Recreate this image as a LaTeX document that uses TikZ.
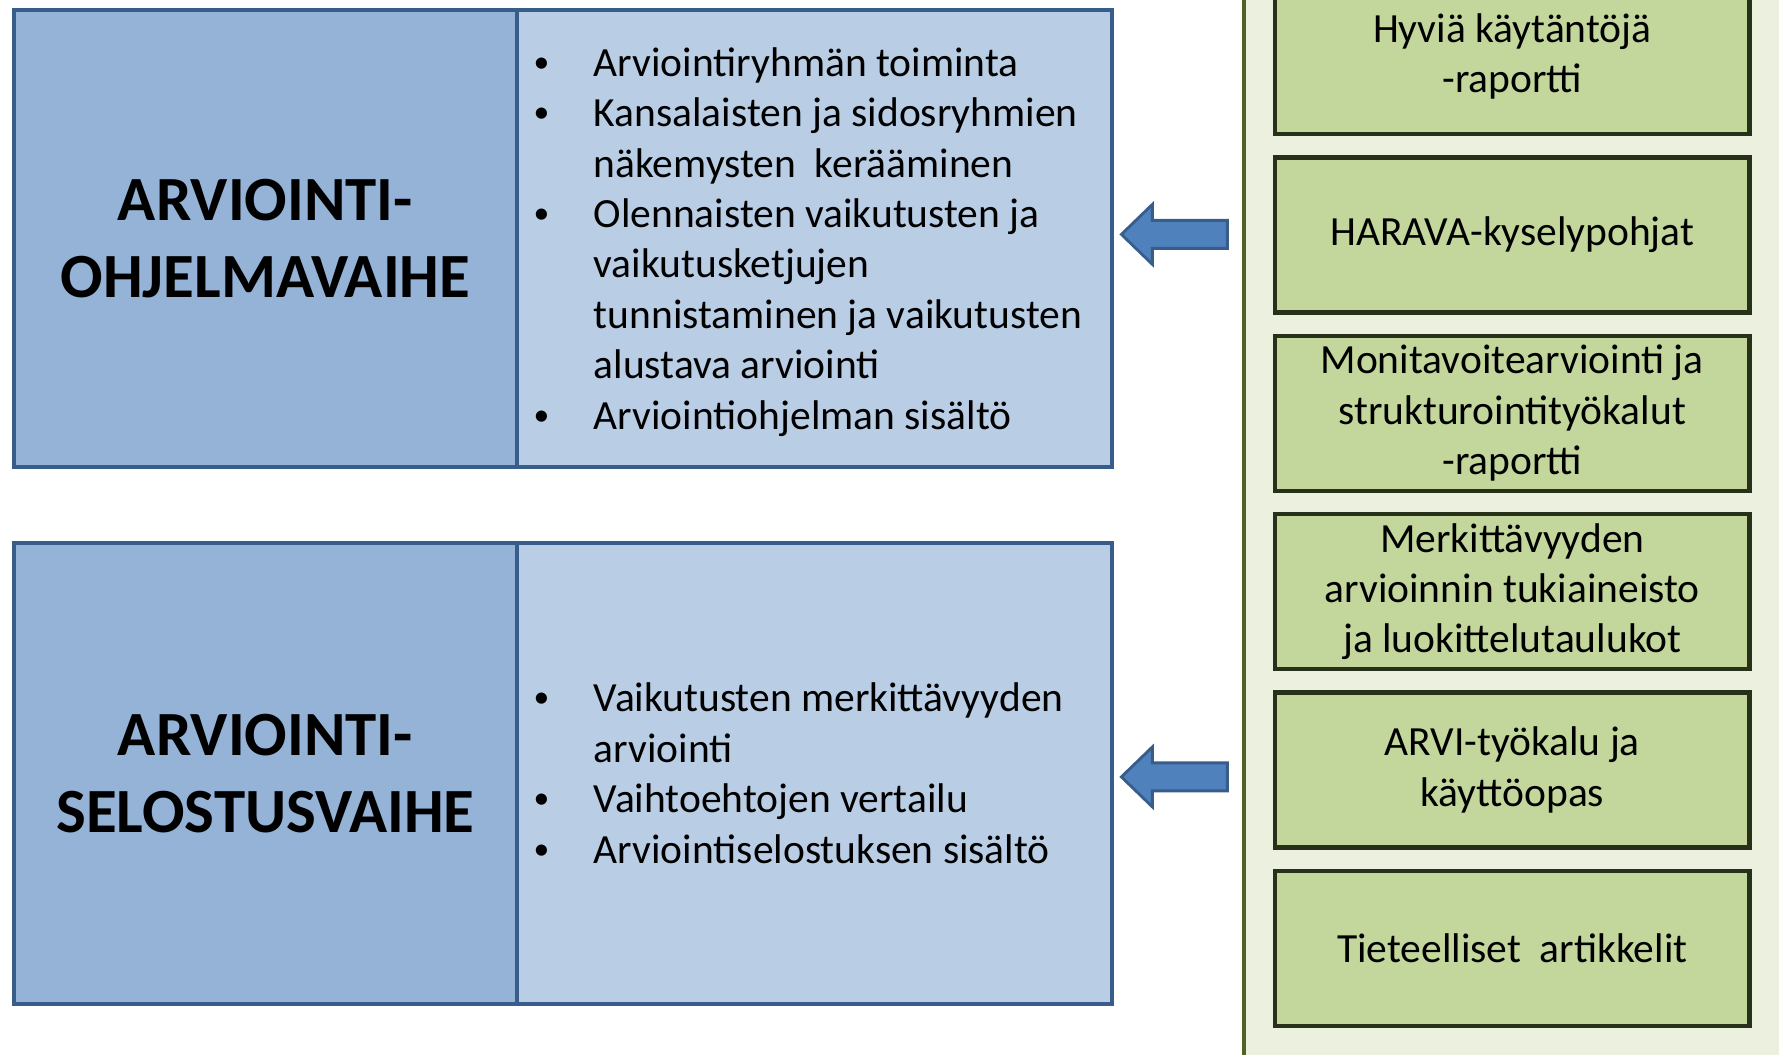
\documentclass[tikz,border=0pt]{standalone}
\usepackage{fontspec}
\setmainfont{Carlito}
\usepackage{tikz}
\usetikzlibrary{positioning}

\definecolor{phaseblue}{HTML}{95B3D7}
\definecolor{listblue}{HTML}{B9CDE5}
\definecolor{edgeblue}{HTML}{385D8A}
\definecolor{arrowblue}{HTML}{4F81BD}
\definecolor{panelgreen}{HTML}{EBF1DE}
\definecolor{paneledge}{HTML}{4F6228}
\definecolor{toolgreen}{HTML}{C3D69B}
\definecolor{tooledge}{HTML}{27311A}

\newcommand{\bul}{\makebox[0.56cm][l]{\hspace*{-0.04cm}\raisebox{0.2ex}{\fontsize{9}{9}\selectfont\textbullet}}}
\newcommand{\ind}{\hspace*{0.56cm}}

\begin{document}
\begin{tikzpicture}[x=0.01cm, y=-0.01cm,
    phase/.style={draw=edgeblue, line width=1pt, fill=phaseblue,
        minimum width=5.03cm, anchor=north west, align=center,
        font=\bfseries\fontsize{17.9}{22}\selectfont},
    listbox/.style={draw=edgeblue, line width=1pt, fill=listblue,
        minimum width=5.95cm, anchor=north west},
    listtext/.style={anchor=west, align=left, inner sep=0pt,
        font=\fontsize{11.8}{14.35}\selectfont},
    tool/.style={draw=tooledge, line width=1.2pt, fill=toolgreen,
        minimum width=4.74cm, minimum height=1.55cm, inner ysep=0.5pt,
        align=center, font=\fontsize{11.8}{14.35}\selectfont},
    blockarrow/.style={fill=arrowblue, draw=edgeblue, line width=0.8pt}]

    \useasboundingbox (0,0) rectangle (1779,1055);
    \clip (0,0) rectangle (1779,1055);

    % 1. Right panel with the tools
    \node[draw=paneledge, line width=1.1pt, fill=panelgreen, anchor=north west,
          minimum width=6cm, minimum height=11.2cm] (panel) at (1242,-30) {};

    \node[tool, anchor=north west] (hyvia) at (1273,-23) {Hyviä käytäntöjä\\-raportti};
    \node[tool, below=0.19cm of hyvia] (harava) {HARAVA-kyselypohjat};
    \node[tool, below=0.19cm of harava] (monitavoite) {Monitavoitearviointi ja\\strukturointityökalut\\-raportti};
    \node[tool, below=0.19cm of monitavoite] (merkitys) {Merkittävyyden\\arvioinnin tukiaineisto\\ja luokittelutaulukot};
    \node[tool, below=0.19cm of merkitys] (arvi) {ARVI-työkalu ja\\käyttöopas};
    \node[tool, below=0.19cm of arvi] (artikkelit) {Tieteelliset \ artikkelit};

    % 2. Programme phase (top)
    \node[phase, minimum height=4.57cm] (ohjelma) at (12,8) {ARVIOINTI-\\OHJELMAVAIHE};
    \node[listbox, minimum height=4.57cm] (ohjelmalista) at (515,8) {};
    \node[listtext] (ohjelmateksti) at ([xshift=0.22cm, yshift=-0.035cm]ohjelmalista.west) {%
        \bul Arviointiryhmän toiminta\\
        \bul Kansalaisten ja sidosryhmien\\
        \ind näkemysten \ kerääminen\\
        \bul Olennaisten vaikutusten ja\\
        \ind vaikutusketjujen\\
        \ind tunnistaminen ja vaikutusten\\
        \ind alustava arviointi\\
        \bul Arviointiohjelman sisältö};

    % 3. Report phase (bottom)
    \node[phase, minimum height=4.61cm] (selostus) at (12,541) {ARVIOINTI-\\SELOSTUSVAIHE};
    \node[listbox, minimum height=4.61cm] (selostuslista) at (515,541) {};
    \node[listtext] (selostusteksti) at ([xshift=0.22cm]selostuslista.west) {%
        \bul Vaikutusten merkittävyyden\\
        \ind arviointi\\
        \bul Vaihtoehtojen vertailu\\
        \bul Arviointiselostuksen sisältö};

    % 4. Block arrows from the tools to the phases
    \coordinate (tipA) at ([xshift=0.075cm, yshift=0.04cm]ohjelmalista.east);
    \draw[blockarrow] (tipA) -- ++(31,-30) -- ++(0,16) -- ++(75,0) -- ++(0,28)
        -- ++(-75,0) -- ++(0,16) -- cycle;
    \coordinate (tipB) at ([xshift=0.075cm, yshift=-0.035cm]selostuslista.east);
    \draw[blockarrow] (tipB) -- ++(31,-30) -- ++(0,16) -- ++(75,0) -- ++(0,28)
        -- ++(-75,0) -- ++(0,16) -- cycle;

\end{tikzpicture}
\end{document}
